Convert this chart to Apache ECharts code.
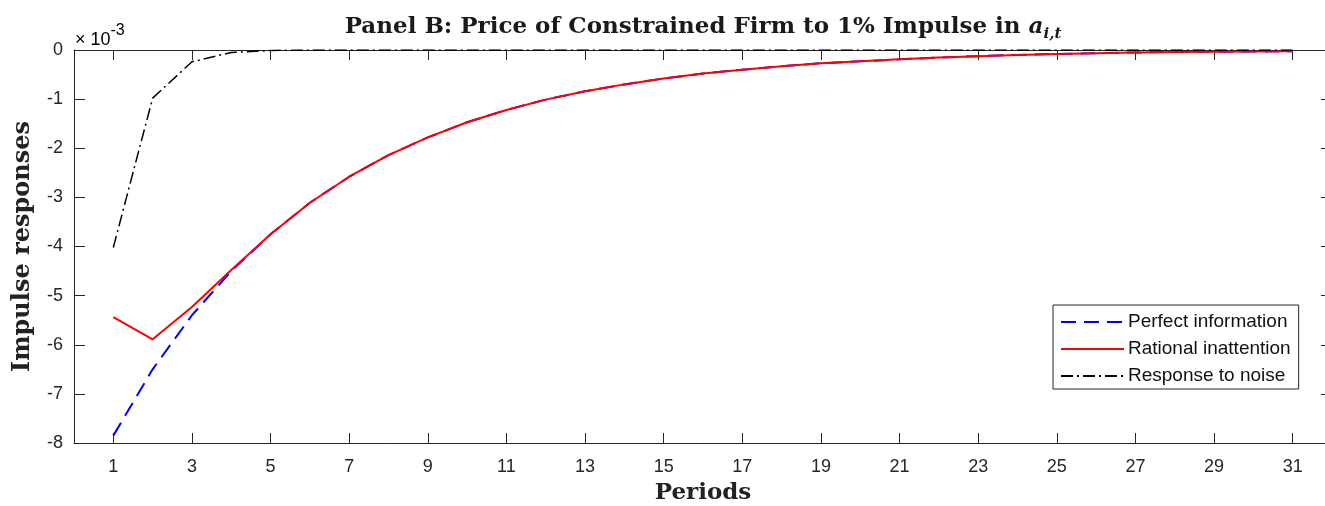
<!DOCTYPE html>
<html>
<head>
<meta charset="utf-8">
<script src="https://cdn.jsdelivr.net/npm/echarts@6/dist/echarts.min.js"></script>
<style>
  html, body { margin: 0; padding: 0; background: #fff; }
  #chart { width: 1325px; height: 506px; }
</style>
</head>
<body>
<div id="chart"></div>
<script>
// Impulse responses (in units of 10^-3) over 31 periods
const periods = [1, 2, 3, 4, 5, 6, 7, 8, 9, 10, 11, 12, 13, 14, 15, 16, 17, 18, 19, 20, 21, 22, 23, 24, 25, 26, 27, 28, 29, 30, 31];
const perfectInfo = [-7.85, -6.50, -5.40, -4.50, -3.75, -3.11, -2.58, -2.14, -1.78, -1.47, -1.22, -1.01, -0.84, -0.70, -0.58, -0.48, -0.40, -0.33, -0.27, -0.23, -0.19, -0.155, -0.125, -0.10, -0.08, -0.065, -0.05, -0.04, -0.035, -0.03, -0.025];
const rationalInattention = [-5.44, -5.89, -5.23, -4.48, -3.75, -3.11, -2.58, -2.14, -1.78, -1.47, -1.22, -1.01, -0.84, -0.70, -0.58, -0.48, -0.40, -0.33, -0.27, -0.23, -0.19, -0.155, -0.125, -0.10, -0.08, -0.065, -0.05, -0.04, -0.035, -0.03, -0.025];
const noiseResponse = [-4.02, -0.98, -0.24, -0.05, -0.01, 0, 0, 0, 0, 0, 0, 0, 0, 0, 0, 0, 0, 0, 0, 0, 0, 0, 0, 0, 0, 0, 0, 0, 0, 0, 0];
const xTicks = [1, 3, 5, 7, 9, 11, 13, 15, 17, 19, 21, 23, 25, 27, 29, 31];
const seriesNames = ['Perfect information', 'Rational inattention', 'Response to noise'];

const axisColor = '#262626';
const serif = '"DejaVu Serif", "Liberation Serif", serif';
const sans = '"Liberation Sans", Arial, sans-serif';

const pairs = vals => periods.map((p, i) => [p, vals[i]]);

const chart = echarts.init(document.getElementById('chart'), null, { renderer: 'canvas' });

const baseX = {
  type: 'value', min: 0, max: 32,
  axisLine: { show: true, onZero: false, lineStyle: { color: axisColor, width: 1 } },
  axisTick: { show: true, inside: true, length: 10, customValues: xTicks, lineStyle: { color: axisColor } },
  splitLine: { show: false }
};
const baseY = {
  type: 'value', min: -8, max: 0, interval: 1,
  axisLine: { show: true, onZero: false, lineStyle: { color: axisColor, width: 1 } },
  axisTick: { show: true, inside: true, length: 11, lineStyle: { color: axisColor } },
  splitLine: { show: false }
};

chart.setOption({
  animation: false,
  backgroundColor: '#ffffff',
  title: {
    left: 698, textAlign: 'center', top: 7,
    text: '{b|Panel B: Price of Constrained Firm to 1% Impulse in }{i|a}{s|i,t}',
    textStyle: {
      rich: {
        b: { fontFamily: serif, fontWeight: 'bold', fontSize: 23, color: '#1a1a1a', lineHeight: 30 },
        i: { fontFamily: serif, fontStyle: 'italic', fontSize: 23, color: '#1a1a1a', lineHeight: 30 },
        s: { fontFamily: serif, fontStyle: 'italic', fontSize: 15, color: '#1a1a1a', lineHeight: 15, verticalAlign: 'bottom' }
      }
    }
  },
  grid: { left: 74, width: 1258, top: 50, bottom: 63, containLabel: false, outerBoundsMode: 'none' },
  legend: {
    orient: 'vertical',
    left: 1053, top: 305,
    data: seriesNames,
    itemWidth: 63, itemHeight: 14, itemGap: 7,
    padding: [7, 8, 3, 7],
    borderColor: axisColor, borderWidth: 1,
    backgroundColor: '#ffffff',
    itemStyle: { color: 'transparent', borderWidth: 0, opacity: 0 },
    textStyle: { fontFamily: sans, fontSize: 19, lineHeight: 20, color: '#111', padding: [0, 0, 0, -1] }
  },
  xAxis: [
    Object.assign({}, baseX, {
      position: 'bottom',
      axisLabel: { show: true, customValues: xTicks, margin: 15, fontFamily: sans, fontSize: 18, color: axisColor },
      name: 'Periods', nameLocation: 'middle', nameGap: 39,
      nameTextStyle: { fontFamily: serif, fontWeight: 'bold', fontSize: 23, color: '#222' }
    }),
    Object.assign({}, baseX, { position: 'top', axisLabel: { show: false } })
  ],
  yAxis: [
    Object.assign({}, baseY, {
      position: 'left',
      axisLabel: { show: true, margin: 11, fontFamily: sans, fontSize: 18, color: axisColor },
      name: 'Impulse responses', nameLocation: 'middle', nameGap: 39, nameRotate: 90,
      nameTextStyle: { fontFamily: serif, fontWeight: 'bold', fontSize: 24, color: '#222' }
    }),
    Object.assign({}, baseY, { position: 'right', axisLabel: { show: false } })
  ],
  graphic: [
    {
      type: 'text', left: 75, top: 23,
      style: {
        text: '{m|×}{n| 10}{e|-3}',
        rich: {
          m: { fontFamily: sans, fontSize: 18, color: axisColor, lineHeight: 26, verticalAlign: 'bottom' },
          n: { fontFamily: sans, fontSize: 18, color: axisColor, lineHeight: 26, verticalAlign: 'bottom' },
          e: { fontFamily: sans, fontSize: 16, color: axisColor, lineHeight: 14, verticalAlign: 'top' }
        }
      }
    }
  ],
  series: [
    {
      name: seriesNames[0], type: 'line', data: pairs(perfectInfo),
      showSymbol: false, symbol: 'none', z: 2,
      lineStyle: { color: '#0000ff', width: 2, type: [15, 8] },
      itemStyle: { color: '#0000ff' }
    },
    {
      name: seriesNames[1], type: 'line', data: pairs(rationalInattention),
      showSymbol: false, symbol: 'none', z: 3,
      lineStyle: { color: '#ff0000', width: 2, type: 'solid' },
      itemStyle: { color: '#ff0000' }
    },
    {
      name: seriesNames[2], type: 'line', data: pairs(noiseResponse),
      showSymbol: false, symbol: 'none', z: 4,
      lineStyle: { color: '#000000', width: 1.5, type: [12, 4, 2, 4] },
      itemStyle: { color: '#000000' }
    }
  ]
});
</script>
</body>
</html>
